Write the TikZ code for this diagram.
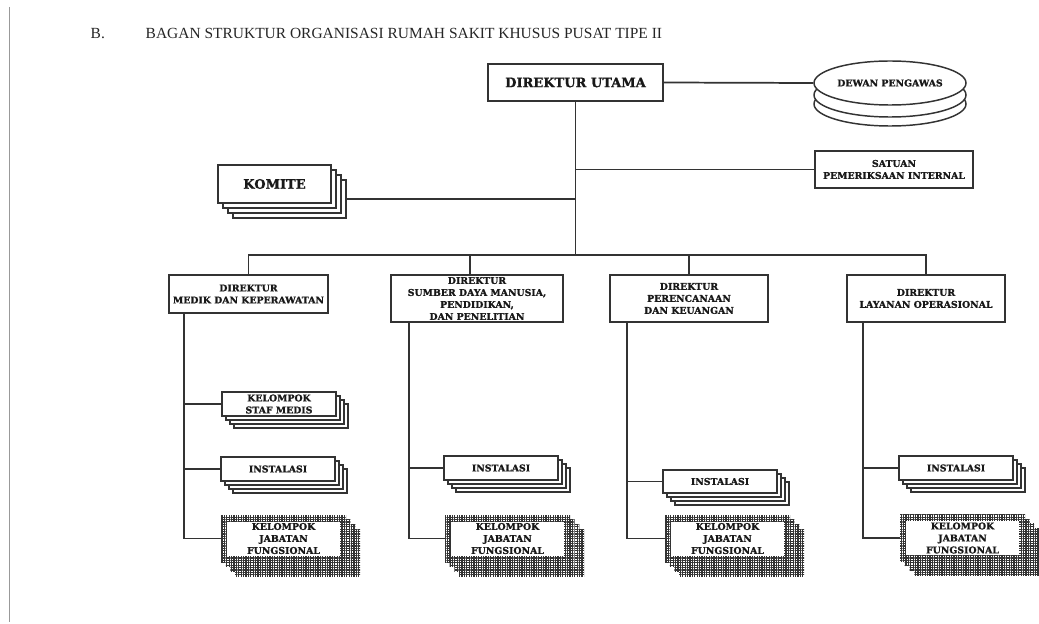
\documentclass[tikz,border=0pt]{standalone}
\usepackage{fontspec}
\setmainfont{Liberation Serif}
\newfontfamily\boxfont[FakeBold=1.2]{DejaVu Serif Bold}
\usetikzlibrary{shapes.geometric,patterns}

% fine square mesh used for the functional-group boxes
\pgfdeclarepatternformonly{finegrid}{\pgfpoint{-0.1pt}{-0.1pt}}{\pgfpoint{1.9pt}{1.9pt}}{\pgfpoint{1.8pt}{1.8pt}}{%
  \pgfsetlinewidth{0.8pt}%
  \pgfpathmoveto{\pgfpoint{0pt}{0.9pt}}\pgfpathlineto{\pgfpoint{1.8pt}{0.9pt}}%
  \pgfpathmoveto{\pgfpoint{0.9pt}{0pt}}\pgfpathlineto{\pgfpoint{0.9pt}{1.8pt}}%
  \pgfusepath{stroke}}

\def\pxu{0.75pt}

\tikzset{
  ln/.style={draw=black!80, line width=1.3pt},
  boxtext/.style={align=center, text=black!90, font=\boxfont\fontsize{7}{9}\selectfont},
  bigtext/.style={font=\boxfont\fontsize{9.75}{12}\selectfont},
  plainbox/.style={rectangle, draw=black!80, line width=1.1pt, fill=white, inner sep=0pt, boxtext},
  gridback/.style={rectangle, fill=white, inner sep=0pt,
    postaction={pattern=finegrid, pattern color=black!80}},
  disc/.style={ellipse, draw=black!80, line width=1.1pt, fill=white, inner sep=0pt,
    minimum width=152*\pxu, minimum height=44*\pxu, boxtext},
}

% stacked boxes: name, cx, cy, width, height, offset, extra style, text
\newcommand{\stackbox}[8]{%
  \foreach \k in {3,2,1}{%
    \node[plainbox, minimum width=#4*\pxu, minimum height=#5*\pxu] (#1-b\k) at ({#2+\k*#6},{#3+\k*#6}) {};}
  \node[plainbox, minimum width=#4*\pxu, minimum height=#5*\pxu, #7] (#1) at (#2,#3) {#8};
}

% meshed stacked boxes: name, cx, cy, width, height, text
\newcommand{\kjfbox}[6]{%
  \foreach \k in {3,2,1}{%
    \node[gridback, minimum width=#4*\pxu, minimum height=#5*\pxu] (#1-b\k) at ({#2+\k*4.7},{#3+\k*4.7}) {};}
  \node[gridback, minimum width=#4*\pxu, minimum height=#5*\pxu] (#1) at (#2,#3) {};
  \node[rectangle, fill=white, inner sep=0pt, minimum width=(#4-12)*\pxu,
        minimum height=(#5-13)*\pxu, boxtext] (#1-in) at (#2,#3) {#6};
}

\begin{document}
\begin{tikzpicture}[x=0.75pt, y=-0.75pt]
\useasboundingbox (0,0) rectangle (1039,624);

% page margin rule
\draw[black!40, line width=0.75pt] (9,7) -- (9,622);

% heading
\node[anchor=base west, font=\fontsize{11.6}{13}\selectfont, text=black!85] (lbl) at (86,39) {B.};
\node[anchor=base west, font=\fontsize{11.6}{13}\selectfont, text=black!85] (title) at (141,39)
  {BAGAN STRUKTUR ORGANISASI RUMAH SAKIT KHUSUS PUSAT TIPE II};

% top level
\node[plainbox, bigtext, minimum width=175*\pxu, minimum height=37*\pxu] (du) at (575.5,82.5) {DIREKTUR UTAMA};

\node[disc] (dewan-r2) at (890,104) {};
\node[disc] (dewan-r1) at (890,95) {};
\node[disc] (dewan) at (890,83) {DEWAN PENGAWAS};

\node[plainbox, minimum width=158*\pxu, minimum height=37*\pxu] (spi) at (894,169.5) {SATUAN\\PEMERIKSAAN INTERNAL};

\stackbox{komite}{274.5}{184}{113}{38}{5}{bigtext}{KOMITE}

% directors
\node[plainbox, minimum width=159*\pxu, minimum height=38*\pxu] (dm) at (248.5,294) {DIREKTUR\\MEDIK DAN KEPERAWATAN};
\node[plainbox, minimum width=172*\pxu, minimum height=47*\pxu] (dsdm) at (477,298.5) {DIREKTUR\\SUMBER DAYA MANUSIA,\\PENDIDIKAN,\\DAN PENELITIAN};
\node[plainbox, minimum width=158*\pxu, minimum height=47*\pxu] (dpk) at (689,298.5) {DIREKTUR\\PERENCANAAN\\DAN KEUANGAN};
\node[plainbox, minimum width=158*\pxu, minimum height=47*\pxu] (dlo) at (926,298.5) {DIREKTUR\\LAYANAN OPERASIONAL};

% units under each director
\stackbox{ksm}{279}{404}{114}{24}{4}{}{KELOMPOK\\STAF MEDIS}
\stackbox{instm}{278}{469}{114}{24}{4}{}{INSTALASI}
\kjfbox{kjfm}{283.5}{538.5}{125}{47}{KELOMPOK\\JABATAN\\FUNGSIONAL}

\stackbox{insts}{501}{468}{114}{24}{4}{}{INSTALASI}
\kjfbox{kjfs}{507.5}{538.5}{125}{47}{KELOMPOK\\JABATAN\\FUNGSIONAL}

\stackbox{instp}{720}{481.5}{114}{23}{4}{}{INSTALASI}
\kjfbox{kjfp}{727.5}{538.5}{125}{47}{KELOMPOK\\JABATAN\\FUNGSIONAL}

\stackbox{instl}{956}{468}{114}{24}{4}{}{INSTALASI}
\kjfbox{kjfl}{962.5}{538}{125}{47}{KELOMPOK\\JABATAN\\FUNGSIONAL}

% connectors
\coordinate (busy) at (0,255);
\coordinate (dropS) at (470,255);
\draw[ln] (du.east) -- (dewan.west);
\draw[ln] (du.south) -- (du.south |- busy);
\draw[ln] (du.south |- spi.west) -- (spi.west);
\draw[ln] (komite-b3.east) -- (komite-b3.east -| du.south);
\draw[ln] (dm.north) -- (dm.north |- busy) -- (dlo.north |- busy) -- (dlo.north);
\draw[ln] (dropS) -- (dropS |- dsdm.north);
\draw[ln] (dpk.north |- busy) -- (dpk.north);

\coordinate (ms) at ([xshift=16*\pxu]dm.south west);
\coordinate (ss) at ([xshift=19*\pxu]dsdm.south west);
\coordinate (ps) at ([xshift=18*\pxu]dpk.south west);
\coordinate (ls) at ([xshift=17*\pxu]dlo.south west);

\draw[ln] (ms) |- (kjfm.west);
\draw[ln] (ms |- ksm.west) -- (ksm.west);
\draw[ln] (ms |- instm.west) -- (instm.west);

\draw[ln] (ss) |- (kjfs.west);
\draw[ln] (ss |- insts.west) -- (insts.west);

\draw[ln] (ps) |- (kjfp.west);
\draw[ln] (ps |- instp.west) -- (instp.west);

\draw[ln] (ls) |- (kjfl.west);
\draw[ln] (ls |- instl.west) -- (instl.west);
\end{tikzpicture}
\end{document}
